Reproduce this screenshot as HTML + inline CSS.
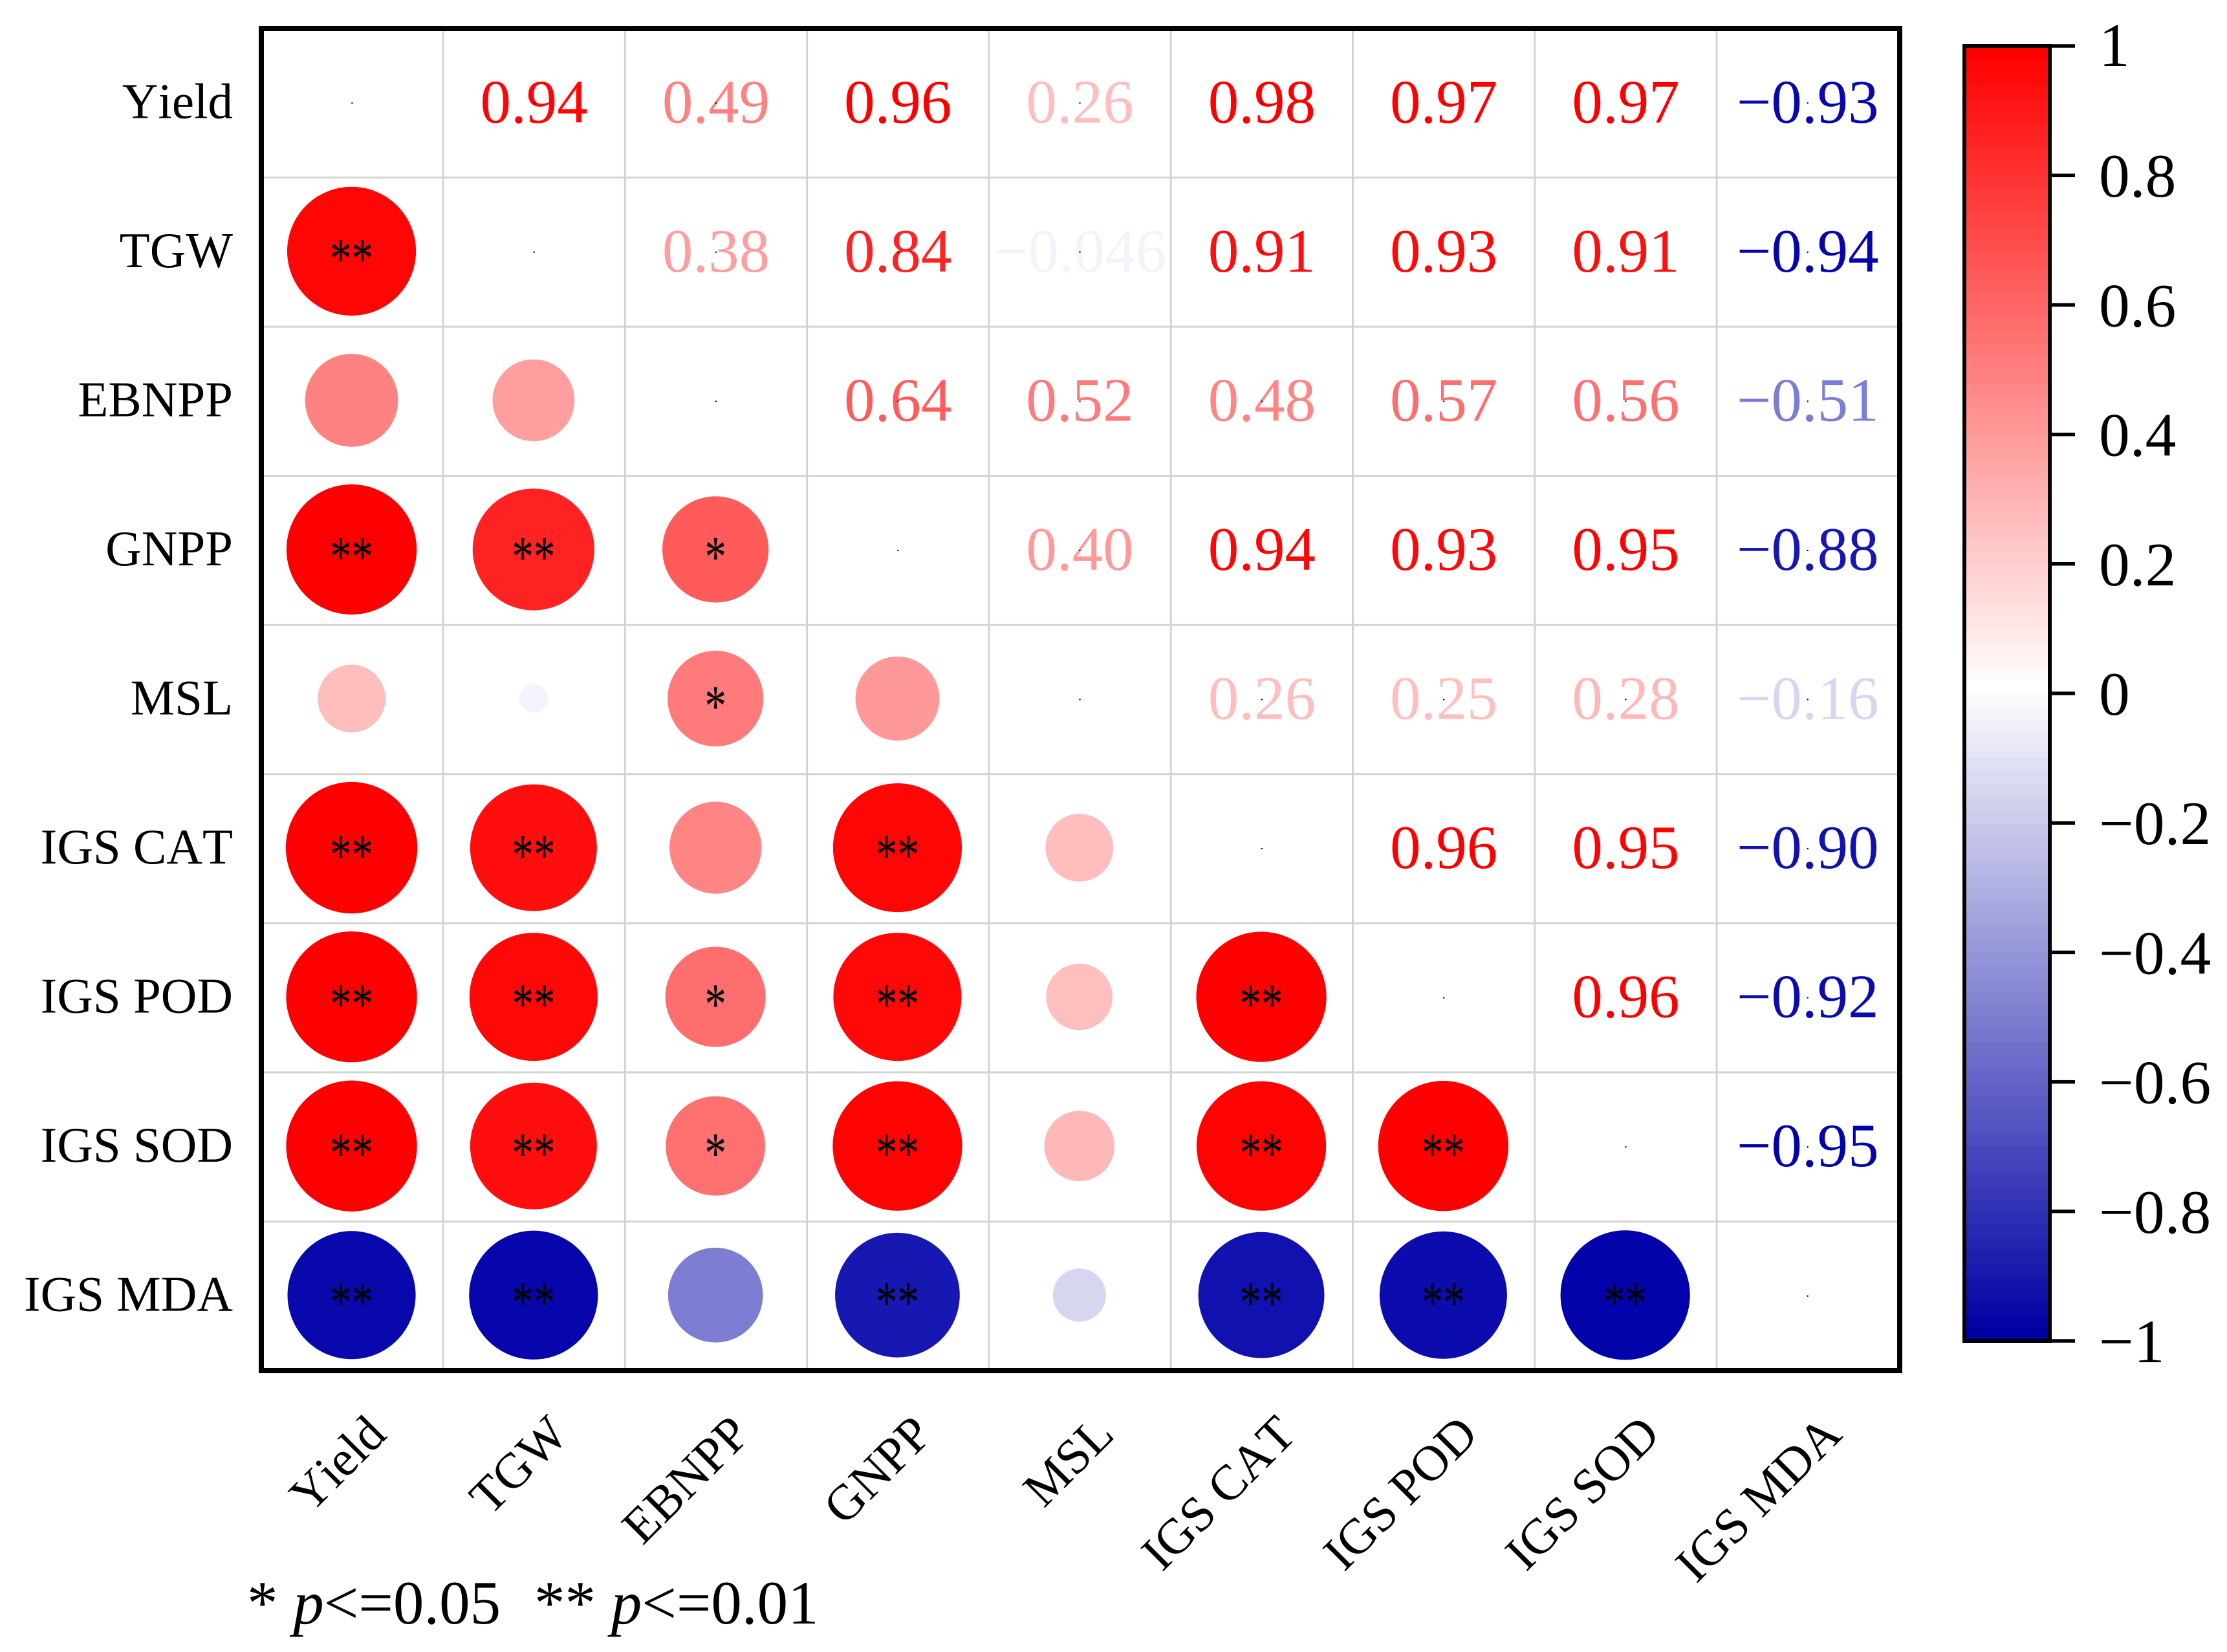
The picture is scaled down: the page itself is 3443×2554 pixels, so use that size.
<!DOCTYPE html>
<html lang="en">
<head>
<meta charset="utf-8">
<title>Correlation matrix</title>
<style>
html,body{margin:0;padding:0;background:#fff;}
svg{display:block;}
text{font-family:"Liberation Serif","Times New Roman",serif;font-kerning:none;}
</style>
</head>
<body>
<svg id="chart" xmlns="http://www.w3.org/2000/svg" width="3443" height="2554" viewBox="0 0 3443 2554">
<rect width="3443" height="2554" fill="#fff"/>
<g id="grid"></g>
<g id="circles"></g>
<g id="values"></g>
<g id="stars"></g>
<g id="dots"></g>
<rect x="404" y="44" width="2533" height="2075" fill="none" stroke="#000" stroke-width="8"/>
<g id="ylabels"></g>
<g id="xlabels"></g>
<g id="colorbar"></g>
<text x="382" y="2510" font-size="95" fill="#000">* <tspan font-style="italic">p</tspan>&lt;=0.05</text>
<text x="826" y="2510" font-size="95" fill="#000">** <tspan font-style="italic">p</tspan>&lt;=0.01</text>
</svg>
<script>
const categories = ["Yield","TGW","EBNPP","GNPP","MSL","IGS CAT","IGS POD","IGS SOD","IGS MDA"];
const rowYield = [1,0.94,0.49,0.96,0.26,0.98,0.97,0.97,-0.93];
const rowTGW = [0.94,1,0.38,0.84,-0.046,0.91,0.93,0.91,-0.94];
const rowEBNPP = [0.49,0.38,1,0.64,0.52,0.48,0.57,0.56,-0.51];
const rowGNPP = [0.96,0.84,0.64,1,0.40,0.94,0.93,0.95,-0.88];
const rowMSL = [0.26,-0.046,0.52,0.40,1,0.26,0.25,0.28,-0.16];
const rowCAT = [0.98,0.91,0.48,0.94,0.26,1,0.96,0.95,-0.90];
const rowPOD = [0.97,0.93,0.57,0.93,0.25,0.96,1,0.96,-0.92];
const rowSOD = [0.97,0.91,0.56,0.95,0.28,0.95,0.96,1,-0.95];
const rowMDA = [-0.93,-0.94,-0.51,-0.88,-0.16,-0.90,-0.92,-0.95,1];
const matrix = [rowYield,rowTGW,rowEBNPP,rowGNPP,rowMSL,rowCAT,rowPOD,rowSOD,rowMDA];
const starsTGW = ["**"];
const starsEBNPP = ["",""];
const starsGNPP = ["**","**","*"];
const starsMSL = ["","","*",""];
const starsCAT = ["**","**","","**",""];
const starsPOD = ["**","**","*","**","","**"];
const starsSOD = ["**","**","*","**","","**","**"];
const starsMDA = ["**","**","","**","","**","**","**"];
const significance = [[],starsTGW,starsEBNPP,starsGNPP,starsMSL,starsCAT,starsPOD,starsSOD,starsMDA];
const colorbarTicks = [1,0.8,0.6,0.4,0.2,0,-0.2,-0.4,-0.6,-0.8,-1];

const NS = "http://www.w3.org/2000/svg";
const left = 403.7, top0 = 44, cellW = 281.3, cellH = 2075/9;
const barTop = 71, barBottom = 2073, barLeft = 3037, barRight = 3169;
const maxRadius = 102.7;
const xCenter = i => left + cellW*(i+0.5);
const yCenter = j => top0 + cellH*(j+0.5);
const radius = v => maxRadius*Math.sqrt(Math.abs(v));
const barY = v => barTop + (1-v)/2*(barBottom-barTop);
function barColor(v){
  const t = Math.min(1,Math.abs(v));
  const c = Math.round(255*(1-t));
  if(v>=0) return `rgb(255,${c},${c})`;
  return `rgb(${c},${c},${Math.round(255-92*t)})`;
}
function markColor(v){
  const a = Math.abs(v);
  const t = a<=0.6 ? a : Math.min(1,0.6+(a-0.6)*(0.4/0.36));
  const c = Math.round(255*(1-t));
  if(v>=0) return `rgb(255,${c},${c})`;
  return `rgb(${c},${c},${Math.round(255-85*t)})`;
}
const fmt = v => Number(v).toPrecision(2).replace("-","\u2212");
function mk(tag,parent,props,txt){
  const el = document.createElementNS(NS,tag);
  for(const k in props) el.setAttribute(k,props[k]);
  if(txt!==undefined) el.textContent = txt;
  parent.appendChild(el);
  return el;
}
const gGrid = document.getElementById("grid");
const gCircles = document.getElementById("circles");
const gValues = document.getElementById("values");
const gStars = document.getElementById("stars");
const gDots = document.getElementById("dots");
const gY = document.getElementById("ylabels");
const gX = document.getElementById("xlabels");
const gBar = document.getElementById("colorbar");

for(let i=1;i<categories.length;i++){
  const v = mk("line",gGrid,{x1:left+cellW*i,x2:left+cellW*i,y1:top0,y2:2119,stroke:"#d3d3d3","stroke-width":3});
  
  
  const h = mk("line",gGrid,{x1:404,x2:2937,y1:top0+cellH*i,y2:top0+cellH*i,stroke:"#d3d3d3","stroke-width":3});
  
  
}

categories.forEach((name,j)=>{
  const yl = mk("text",gY,{x:360,y:yCenter(j)+23,"text-anchor":"end","font-size":77,fill:"#000"},name);
  
  
  const cx = xCenter(j)+56, cy = 2221;
  const xl = mk("text",gX,{x:cx,y:cy,"text-anchor":"end","font-size":77,fill:"#000",transform:`rotate(-45 ${cx} ${cy})`},name);
  
  
});

matrix.forEach((row,j)=>{
  row.forEach((v,i)=>{
    const x = xCenter(i), y = yCenter(j);
    if(i<j){
      const c = mk("circle",gCircles,{cx:x-0.8,cy:y-1.5,r:radius(v),fill:markColor(v)});
      
      
      const s = significance[j][i];
      if(s){
        const st = mk("text",gStars,{x:0,y:0,"text-anchor":"middle","font-size":78,fill:"#000",transform:`translate(${x-0.8} ${y+40}) scale(0.86 1.15)`},s);
        
        
      }
    } else {
      if(i>j){
        const t = mk("text",gValues,{x:x,y:y+30,"text-anchor":"middle","font-size":95,fill:markColor(v)},fmt(v));
        
        
      }
      const d = mk("circle",gDots,{cx:x,cy:y,r:1.2,fill:"#000"});
      
      
    }
  });
});

const levels = 100;
const stepH = (barBottom-barTop)/levels;
for(let k=0;k<levels;k++){
  const v = k<50 ? 1-k/49 : -(k-49)/50;
  const r = mk("rect",gBar,{x:barLeft,y:barTop+k*stepH,width:barRight-barLeft,height:stepH+0.6,fill:barColor(v)});
  
  
}
const frame = mk("rect",gBar,{x:barLeft,y:barTop,width:barRight-barLeft,height:barBottom-barTop,fill:"none",stroke:"#000","stroke-width":6});


colorbarTicks.forEach(v=>{
  const y = barY(v);
  const tk = mk("line",gBar,{x1:barRight,x2:3208,y1:y,y2:y,stroke:"#000","stroke-width":5.5});
  
  
  const lab = v<0 ? "\u2212"+Math.abs(v) : String(v);
  const tl = mk("text",gBar,{x:3245,y:y+(v===1?31:33),"font-size":95.5,fill:"#000"},lab);
  
  
});
</script>
</body>
</html>
